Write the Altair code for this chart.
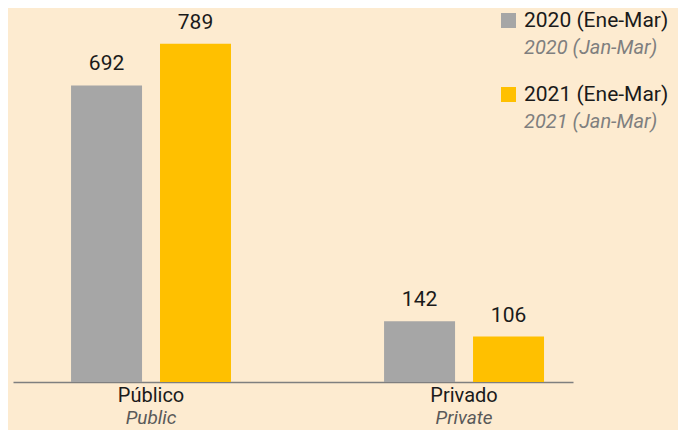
import altair as alt
import pandas as pd

categories = ["Público", "Privado"]
categories_en = ["Public", "Private"]
series = ["2020 (Ene-Mar)", "2021 (Ene-Mar)"]
series_en = ["2020 (Jan-Mar)", "2021 (Jan-Mar)"]
values_2020 = [692, 142]
values_2021 = [789, 106]
colors = ["#A6A6A6", "#FFC000"]

rows = []
for i, c in enumerate(categories):
    rows.append({"cat": c, "series": series[0], "value": values_2020[i]})
    rows.append({"cat": c, "series": series[1], "value": values_2021[i]})
df = pd.DataFrame(rows)
cat_df = pd.DataFrame({"cat": categories, "en": categories_en})

W, H = 560, 360
YMAX = 840
FONT = "Roboto"
TOP = 14

x = alt.X(
    "cat:N",
    sort=categories,
    scale=alt.Scale(paddingInner=0.489, paddingOuter=0.139, align=0.667),
    axis=alt.Axis(title=None, labels=False, ticks=False, grid=False,
                  domainColor="#7F7F7F", domainWidth=1.5),
)
xo = alt.XOffset("series:N", sort=series,
                 scale=alt.Scale(paddingInner=0.202, paddingOuter=0))
y = alt.Y("value:Q", scale=alt.Scale(domain=[0, YMAX]), axis=None)

bars = alt.Chart(df).mark_bar().encode(
    x=x, xOffset=xo, y=y,
    color=alt.Color("series:N", scale=alt.Scale(domain=series, range=colors), legend=None),
)
vals = alt.Chart(df).mark_text(
    dy=-15, baseline="alphabetic", font=FONT, fontSize=21, color="#1A1A1A"
).encode(x=x, xOffset=xo, y=y, text="value:Q")

cat1 = alt.Chart(cat_df).mark_text(
    baseline="alphabetic", font=FONT, fontSize=20, color="#1A1A1A"
).encode(x=alt.X("cat:N", sort=categories), y=alt.value(H + 20), text="cat:N")
cat2 = alt.Chart(cat_df).mark_text(
    baseline="alphabetic", font=FONT, fontSize=19, fontStyle="italic", color="#595959"
).encode(x=alt.X("cat:N", sort=categories), y=alt.value(H + 42), text="en:N")

layers = [bars, vals, cat1, cat2]
for i in range(len(series)):
    d = pd.DataFrame({"s": [series[i]], "en": [series_en[i]]})
    base_y = (19 - TOP) + 74 * i
    sq = alt.Chart(d).mark_rect(color=colors[i]).encode(
        x=alt.value(488), x2=alt.value(503),
        y=alt.value(base_y - 14), y2=alt.value(base_y + 1),
    )
    t1 = alt.Chart(d).mark_text(
        align="left", baseline="alphabetic", font=FONT, fontSize=21, color="#1A1A1A"
    ).encode(x=alt.value(511), y=alt.value(base_y), text="s:N")
    t2 = alt.Chart(d).mark_text(
        align="left", baseline="alphabetic", font=FONT, fontSize=20,
        fontStyle="italic", color="#7F7F7F"
    ).encode(x=alt.value(511), y=alt.value(base_y + 27), text="en:N")
    layers += [sq, t1, t2]

chart = alt.layer(*layers).properties(
    width=W, height=H,
    autosize=alt.AutoSizeParams(type="none"),
    padding={"left": 5, "top": TOP, "right": 105, "bottom": 422 - TOP - H},
    background="#FDEBD0",
).configure_view(stroke=None)

chart.save("out.html", embed_options={"renderer": "svg", "actions": False})
